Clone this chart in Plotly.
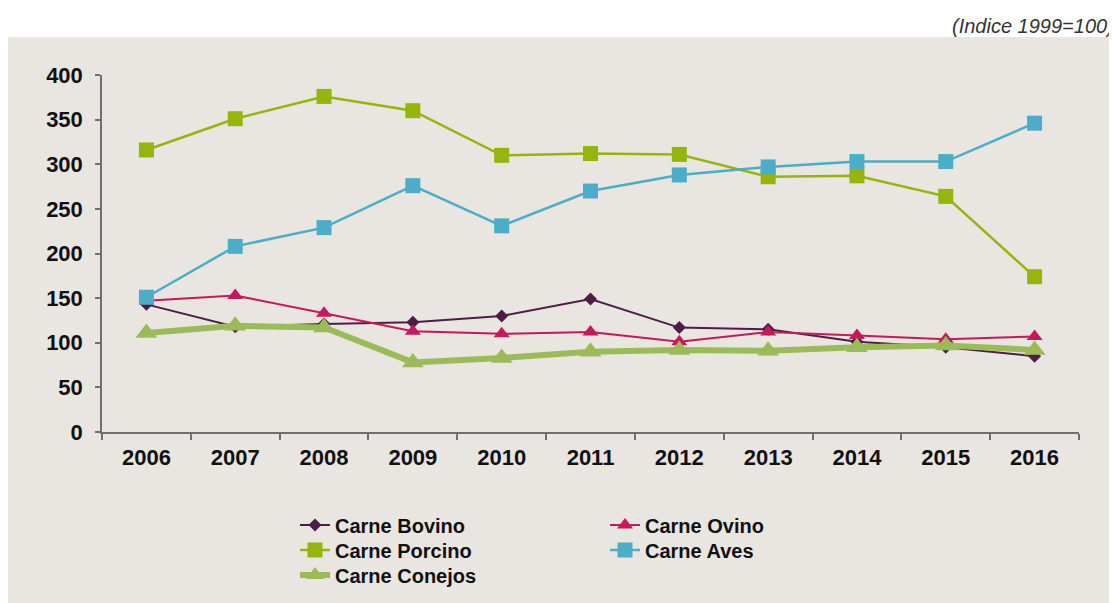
import plotly.graph_objects as go

years = ["2006", "2007", "2008", "2009", "2010", "2011", "2012", "2013", "2014", "2015", "2016"]
bovino = [143, 118, 121, 123, 130, 149, 117, 115, 101, 95, 85]
ovino = [147, 153, 133, 113, 110, 112, 101, 112, 108, 104, 107]
porcino = [316, 351, 376, 360, 310, 312, 311, 286, 287, 264, 174]
aves = [151, 208, 229, 276, 231, 270, 288, 297, 303, 303, 346]
conejos = [111, 119, 117, 78, 83, 90, 92, 91, 95, 97, 92]

# page offset (browser body margin)
OFF = 8
W, H = 1117 - OFF, 603 - OFF
# plot area in page pixels: x 102..1079, y 75..432
ML, MR, MT, MB = 102 - OFF, 1117 - 1079, 75 - OFF, 603 - 432
pw, ph = W - ML - MR, H - MT - MB


def px_x(p):
    """page pixel x -> paper coordinate"""
    return (p - OFF - ML) / pw


def px_y(p):
    """page pixel y -> paper coordinate"""
    return (H - MB - (p - OFF)) / ph


BG = "#e9e6e1"
FONT = "Liberation Sans"

fig = go.Figure()
series = [
    ("Carne Bovino", bovino, "#4d1d48", "diamond", 10, 2, "legend"),
    ("Carne Ovino", ovino, "#c8185c", "triangle-up", 14, 2, "legend"),
    ("Carne Porcino", porcino, "#95b50a", "square", 15, 2.5, "legend2"),
    ("Carne Aves", aves, "#4badc7", "square", 15, 2.5, "legend2"),
    ("Carne Conejos", conejos, "#9bbb59", "triangle-up", 19, 6, "legend3"),
]
for name, vals, col, sym, ms, lw, lg in series:
    fig.add_trace(go.Scatter(
        x=years, y=vals, name=name, mode="lines+markers",
        line=dict(color=col, width=lw),
        marker=dict(symbol=sym, size=ms, color=col, line=dict(width=0)),
        legend=lg,
    ))

fig.add_shape(type="rect", xref="paper", yref="paper",
              x0=px_x(OFF - 2), x1=px_x(1117 + 5), y0=px_y(603 + 5), y1=px_y(37),
              fillcolor=BG, line=dict(width=0), layer="below")

fig.add_annotation(text="(Indice 1999=100)", xref="paper", yref="paper",
                   x=px_x(1116), y=px_y(26), xanchor="right", yanchor="middle",
                   showarrow=False,
                   font=dict(family=FONT, size=20, style="italic", color="#333333"))

legend_common = dict(
    orientation="h", yanchor="middle", xanchor="left",
    bgcolor="rgba(0,0,0,0)", borderwidth=0,
    font=dict(family=FONT, size=20, weight="bold", color="#111111"),
    entrywidth=265, entrywidthmode="pixels",
)

fig.update_layout(
    width=W, height=H,
    margin=dict(l=ML, r=MR, t=MT, b=MB, autoexpand=False),
    paper_bgcolor="white", plot_bgcolor=BG,
    showlegend=True,
    legend=dict(x=px_x(295), y=px_y(525), **legend_common),
    legend2=dict(x=px_x(295), y=px_y(550), **legend_common),
    legend3=dict(x=px_x(295), y=px_y(575), **legend_common),
    xaxis=dict(
        type="category", range=[-0.5, 10.5], showgrid=False, zeroline=False,
        showline=True, linecolor="#6f6f6f", linewidth=1.5,
        ticks="outside", tickson="boundaries", ticklen=6, tickcolor="#6f6f6f", tickwidth=1.5,
        tickfont=dict(family=FONT, size=22, weight="bold", color="#111111"),
        ticklabelstandoff=5,
    ),
    yaxis=dict(
        range=[0, 400], dtick=50, showgrid=False, zeroline=False,
        showline=True, linecolor="#6f6f6f", linewidth=1.5,
        ticks="outside", ticklen=5, tickcolor="#6f6f6f", tickwidth=1.5,
        tickfont=dict(family=FONT, size=22, weight="bold", color="#111111"),
        ticklabelstandoff=8,
    ),
)

fig.write_html("out.html")
